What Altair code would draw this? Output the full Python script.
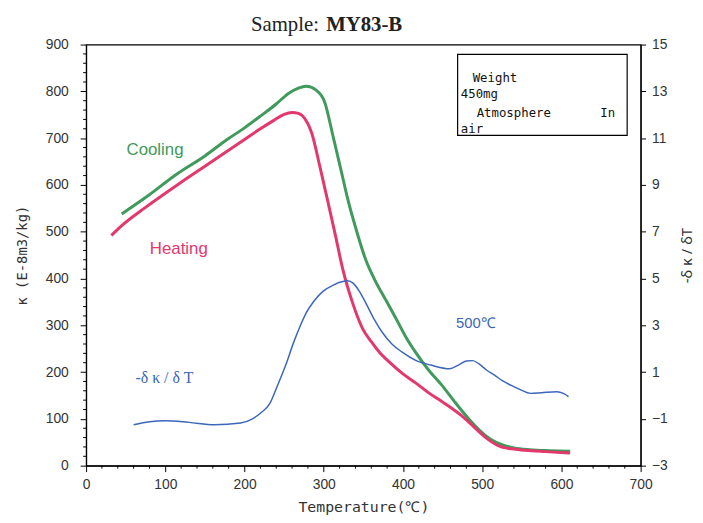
import altair as alt
import pandas as pd

# Heating curve: temperature (°C) and susceptibility (E-8 m3/kg)
heat_T = [32, 45, 75, 116, 150, 178, 200, 220, 237, 250, 260, 268, 276, 285, 295, 305, 315, 324, 336, 349, 360, 370, 385, 400, 416, 433, 449, 462, 474, 487, 499, 510, 520, 537, 554, 580, 611]
heat_k = [492, 513, 552, 601, 640, 672, 697, 720, 738, 751, 755, 753, 742, 710, 640, 566, 490, 420, 350, 293, 265, 243, 218, 196, 177, 155, 137, 122, 107, 87, 68, 53, 43, 36, 33, 30, 27]

# Cooling curve
cool_T = [45, 75, 116, 150, 178, 200, 220, 240, 255, 268, 278, 290, 301, 312, 322, 330, 340, 353, 365, 378, 392, 404, 416, 432, 449, 465, 482, 497, 511, 525, 540, 560, 585, 611]
cool_k = [538, 573, 625, 662, 697, 722, 747, 773, 795, 807, 811, 803, 778, 702, 630, 572, 510, 440, 395, 355, 312, 274, 242, 205, 172, 137, 102, 75, 56, 45, 38, 34, 32, 31]

# -dk/dT curve (right axis)
dk_T = [60, 80, 100, 130, 162, 195, 210, 220, 232, 241, 252, 262, 270, 278, 288, 299, 312, 324, 330, 337, 345, 353, 363, 374, 386, 399, 416, 435, 459, 470, 480, 488, 496, 505, 516, 526, 536, 548, 561, 575, 594, 603, 609]
dk_v = [-1.25, -1.12, -1.08, -1.15, -1.25, -1.18, -1.0, -0.76, -0.34, 0.37, 1.3, 2.27, 2.95, 3.54, 4.05, 4.45, 4.72, 4.87, 4.9, 4.8, 4.45, 3.96, 3.3, 2.69, 2.2, 1.85, 1.5, 1.3, 1.14, 1.3, 1.47, 1.49, 1.35, 1.1, 0.86, 0.62, 0.44, 0.25, 0.09, 0.12, 0.16, 0.08, -0.05]

# Axis tick values
x_major = [0, 100, 200, 300, 400, 500, 600, 700]
x_minor = [v for v in range(0, 701, 20) if v % 100 != 0]
y_major = [0, 100, 200, 300, 400, 500, 600, 700, 800, 900]
y_minor = [v for v in range(0, 901, 20) if v % 100 != 0]
yr_major = [-3, -1, 1, 3, 5, 7, 9, 11, 13, 15]

# Annotation box text (positions in data units)
box_text = ["Weight", "450mg", "Atmosphere", "In", "air"]
box_tx = [488, 473, 493, 649, 473]
box_ky = [820, 786, 746, 746, 712]
box_x = [469]
box_x2 = [683]
box_y = [706]
box_y2 = [879]

RED = "#e2386c"
GREEN = "#3f9a5b"
BLUE = "#3b66bb"

xs = alt.Scale(domain=[0, 700], nice=False)
ys = alt.Scale(domain=[0, 900], nice=False)
yr = alt.Scale(domain=[-3, 15], nice=False)

x_axis = alt.Axis(
    values=x_major, tickSize=6,
    title="Temperature(℃)", titleFont="DejaVu Sans Mono", titleFontSize=15,
    titleFontWeight="normal", titlePadding=8, labelPadding=6,
    labelFlush=False, labelOverlap=False, grid=False,
)
y_axis = alt.Axis(
    values=y_major, tickSize=6,
    title="κ (E-8m3/kg)", titleFont="DejaVu Sans Mono", titleFontSize=14,
    titleFontWeight="normal", titlePadding=16, labelPadding=12,
    labelFlush=False, labelOverlap=False, grid=False,
)
yr_axis = alt.Axis(
    values=yr_major, orient="right", tickSize=5,
    title="-δ κ / δT", titleFont="Noto Sans", titleFontSize=15,
    titleFontWeight="normal", titleAngle=270, titlePadding=28, labelPadding=6,
    labelFlush=False, labelOverlap=False, grid=False,
)


def X(f):
    return alt.X(f, type="quantitative", scale=xs, axis=x_axis)


def Y(f):
    return alt.Y(f, type="quantitative", scale=ys, axis=y_axis)


heat = pd.DataFrame({"T": heat_T, "k": heat_k})
cool = pd.DataFrame({"T": cool_T, "k": cool_k})
dk = pd.DataFrame({"T": dk_T, "v": dk_v})
boxdf = pd.DataFrame({"x": box_x, "x2": box_x2, "y": box_y, "y2": box_y2})
btext = pd.DataFrame({"t": box_text, "x": box_tx, "y": box_ky})
xmin = pd.DataFrame({"x": x_minor})
ymin = pd.DataFrame({"y": y_minor})

xminor = alt.Chart(xmin).mark_rule(color="black", strokeWidth=1).encode(
    x=X("x"), y=alt.value(426), y2=alt.value(429))
yminor = alt.Chart(ymin).mark_rule(color="black", strokeWidth=1).encode(
    y=Y("y"), x=alt.value(-3), x2=alt.value(0))

cool_line = alt.Chart(cool).mark_line(color=GREEN, strokeWidth=3, interpolate="monotone").encode(x=X("T"), y=Y("k"))
heat_line = alt.Chart(heat).mark_line(color=RED, strokeWidth=3, interpolate="monotone").encode(x=X("T"), y=Y("k"))

box = alt.Chart(boxdf).mark_rect(fill="white", stroke="black", strokeWidth=1.2).encode(
    x=X("x"), x2="x2", y=Y("y"), y2="y2")
box_lbl = alt.Chart(btext).mark_text(align="left", baseline="alphabetic", font="DejaVu Sans Mono",
                                     fontSize=12.5, color="#111").encode(x=X("x"), y=Y("y"), text="t")


def label(txt, tx, ky, color, font, size, weight="normal"):
    d = pd.DataFrame({"t": [txt], "x": [tx], "y": [ky]})
    return alt.Chart(d).mark_text(align="center", baseline="middle", font=font, fontSize=size,
                                  color=color, fontWeight=weight).encode(x=X("x"), y=Y("y"), text="t")


lbl_cool = label("Cooling", 87, 674, GREEN, "Liberation Sans", 17)
lbl_heat = label("Heating", 117, 464, RED, "Liberation Sans", 17)
lbl_500 = label("500℃", 492, 305, BLUE, "Liberation Sans", 15)
lbl_dk = label("-δ κ / δ T", 99, 188, BLUE, "Liberation Serif", 16)

t1 = pd.DataFrame({"t": ["Sample:"], "x": [294], "y": [928]})
t2 = pd.DataFrame({"t": ["MY83-B"], "x": [303], "y": [928]})
title1 = alt.Chart(t1).mark_text(align="right", baseline="alphabetic", font="Liberation Serif",
                                 fontSize=21, color="#222").encode(x=X("x"), y=Y("y"), text="t")
title2 = alt.Chart(t2).mark_text(align="left", baseline="alphabetic", font="Liberation Serif",
                                 fontSize=21, fontWeight="bold", color="#222").encode(x=X("x"), y=Y("y"), text="t")

left = alt.layer(xminor, yminor, box, box_lbl, cool_line, heat_line, lbl_cool, lbl_heat, lbl_500, lbl_dk, title1, title2)

right = alt.Chart(dk).mark_line(color=BLUE, strokeWidth=1.5, interpolate="monotone").encode(
    x=X("T"), y=alt.Y("v", type="quantitative", scale=yr, axis=yr_axis))

chart = alt.layer(left, right).resolve_scale(y="independent").properties(
    width=561, height=426,
    autosize=alt.AutoSizeParams(type="none"),
    padding={"left": 79, "top": 34, "right": 55, "bottom": 53},
).configure_view(stroke="black", strokeWidth=1.2).configure_axis(
    labelFont="Liberation Sans", labelFontSize=14, labelColor="#333",
    titleColor="#333", domainColor="black", tickColor="black", domainWidth=1.2,
)

chart.save("out.html", embed_options={"renderer": "svg", "actions": False})
